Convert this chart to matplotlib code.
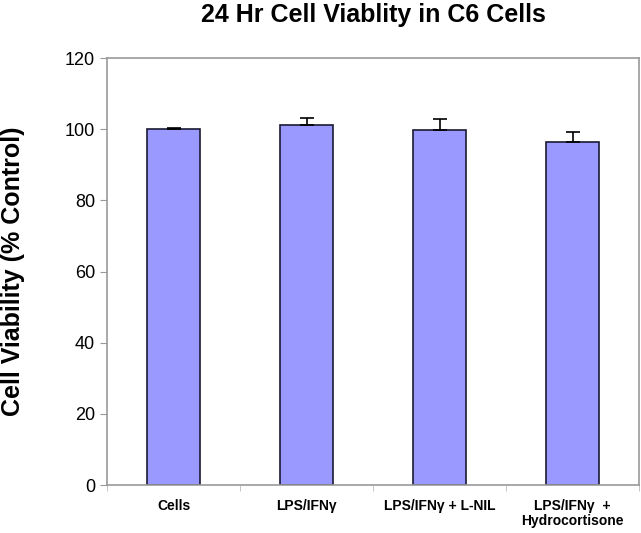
import matplotlib.pyplot as plt
import numpy as np

# data
groups = ["Cells", "LPS/IFNγ", "LPS/IFNγ + L-NIL", "LPS/IFNγ  +\nHydrocortisone"]
viability = [100.0, 101.1, 99.8, 96.4]
errors = [0.4, 2.1, 3.0, 2.7]

plt.rcParams['font.family'] = ['Liberation Sans', 'DejaVu Sans']

fig = plt.figure(figsize=(6.41, 5.33), dpi=100)
ax = fig.add_axes([0.167, 0.090, 0.830, 0.801])

x = np.arange(len(groups))
ax.bar(x, viability, width=0.4, color="#9999ff", edgecolor="#1a1a33", linewidth=1.2,
       yerr=[np.zeros(len(errors)), errors],
       error_kw=dict(ecolor="black", elinewidth=1.2, capsize=5, capthick=1.2))

ax.set_xlim(-0.5, len(groups) - 0.5)
ax.set_ylim(0, 120)
ax.set_yticks(np.arange(0, 121, 20))
ax.tick_params(axis="y", labelsize=13, length=5, color="#999999", direction="out")

# category labels centred, tick marks between categories
ax.set_xticks(x)
ax.set_xticklabels(groups, fontsize=10, fontweight="bold", linespacing=1.1)
ax.tick_params(axis="x", length=0, pad=10)
ax.set_xticks(np.arange(-0.5, len(groups), 1), minor=True)
ax.tick_params(axis="x", which="minor", length=4, color="#bbbbbb")

for side in ax.spines.values():
    side.set_color("#999999")
    side.set_linewidth(1.2)

ax.set_ylabel("Cell Viability (% Control)", fontsize=18, fontweight="bold", labelpad=0)
ax.yaxis.set_label_coords(-0.155, 0.5)
fig.suptitle("24 Hr Cell Viablity in C6 Cells", x=0.582, y=0.995, fontsize=18, fontweight="bold")

fig.savefig("out.png", dpi=100)
